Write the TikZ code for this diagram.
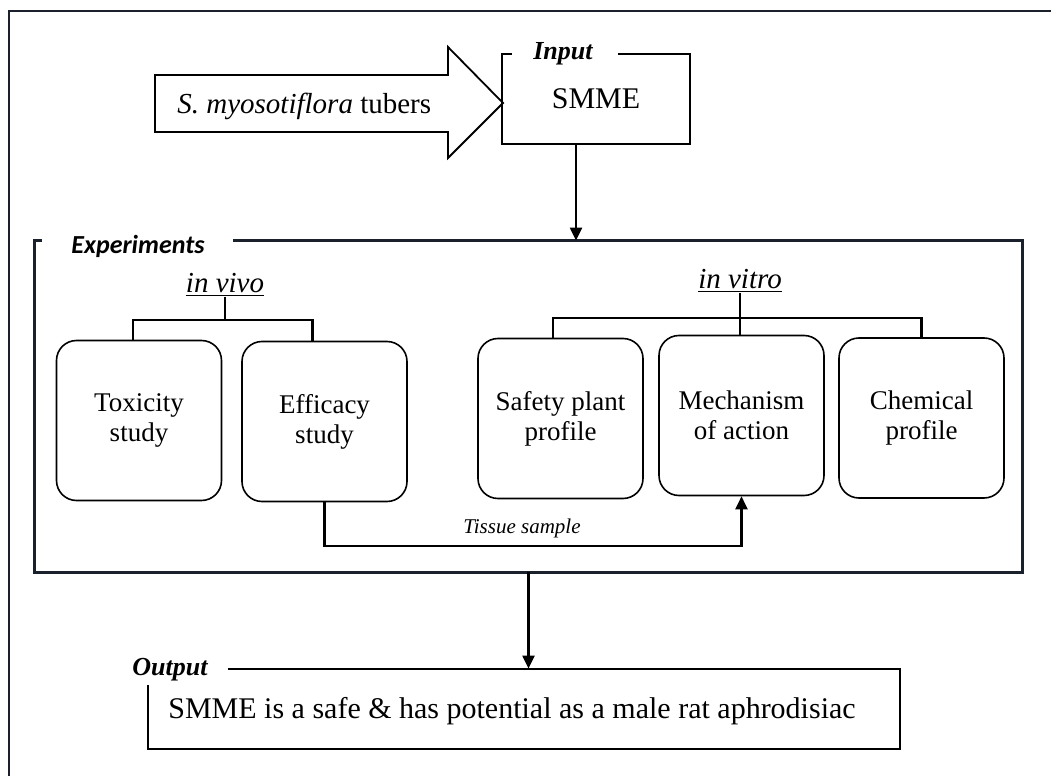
\documentclass[tikz,border=0pt]{standalone}
\usepackage{fontspec}
\setmainfont{Liberation Serif}
\newfontfamily\calibrifont{Carlito}
\usetikzlibrary{arrows.meta,positioning}
\definecolor{Cframe}{HTML}{1A212C}

\begin{document}
\begin{tikzpicture}[x=0.5pt,y=-0.5pt,
		stepbox/.style={draw,line width=0.8pt,rounded corners=10pt,
			minimum width=82.5pt,minimum height=80pt,align=center,
			font=\fontsize{13.5}{15}\selectfont},
		link/.style={line width=1.1pt},
		tip/.style={link,-{Triangle[length=6.5pt,width=6pt]}},
		tag/.style={font=\fontsize{13}{15}\selectfont\bfseries\itshape,inner sep=0pt},
		body/.style={font=\fontsize{14.5}{17}\selectfont,inner sep=0pt}]
	\useasboundingbox (0,0) rectangle (1051,776);
	\draw[Cframe,line width=1pt] (1060,11) -- (9,11) -- (9,790);
	% input
	\draw[line width=0.9pt] (155,75) -- (448,75) -- (448,47) -- (503,103)
		-- (448,158) -- (448,132) -- (155,132) -- cycle;
	\node[body,anchor=base west] (tubers) at (177,113) {\textit{S. myosotiflora} tubers};
	\node[body,font=\fontsize{15}{17}\selectfont,minimum width=94pt,minimum height=44.5pt] (smme) at (596,99) {SMME};
	\draw[line width=1pt] ([xshift=5pt]smme.north west) -- (smme.north west) -- (smme.south west)
		-- (smme.south east) -- (smme.north east) -- ([xshift=-36pt]smme.north east);
	\node[tag,anchor=base] (inlab) at (563,60) {Input};
	\coordinate (smmeout) at ([xshift=-10pt]smme.south);
	% experiments
	\node[minimum width=493.5pt,minimum height=165.5pt,inner sep=0pt] (exper) at (528.5,406.5) {};
	\draw[Cframe,line width=1.5pt] ([xshift=3.5pt]exper.north west) -- (exper.north west)
		-- (exper.south west) -- (exper.south east) -- (exper.north east) -- ([xshift=99pt]exper.north west);
	\node[anchor=base,inner sep=0pt,font=\calibrifont\fontsize{13}{15}\selectfont\bfseries\itshape]
		(explab) at (138,253) {Experiments};
	\draw[tip] (smmeout) -- (smmeout |- exper.north);
	\node[body,anchor=base] (vivo) at (225,292) {\underline{\textit{in vivo}}};
	\node[body,anchor=base] (vitro) at (740,288) {\underline{\textit{in vitro}}};
	\foreach \n/\x/\y/\t in {tox/139/420.5/{Toxicity\\study},eff/324.5/421.5/{Efficacy\\study},
			safe/560.5/418.5/{Safety plant\\profile},mech/741.5/415.5/{Mechanism\\of action},
			chem/921.5/418/{Chemical\\profile}}{
		\node[stepbox] (\n) at (\x,\y) {\t};}
	\draw[link] (vivo.south) -- ++(0,23) coordinate (vivoj);
	\draw[link] ([xshift=-3pt]tox.north) |- (vivoj) -| ([xshift=-6pt]eff.north);
	\draw[link] (vitro.south) -- ++(0,25) coordinate (vitroj);
	\draw[link] ([xshift=-3.75pt]safe.north) |- (vitroj) -| (chem.north);
	\draw[link] (vitroj) -- (vitroj |- mech.north);
	\draw[tip] (eff.south) -- ++(0,44) -| (mech.south);
	\node[anchor=base,inner sep=0pt,font=\fontsize{10.5}{12}\selectfont\itshape] (tissue) at (522,533) {Tissue sample};
	% output
	\node[minimum width=376pt,minimum height=40pt,inner sep=0pt] (result) at (524,709) {};
	\node[body,font=\fontsize{15}{17}\selectfont,anchor=base] (resulttxt) at (512,718)
		{SMME is a safe \& has potential as a male rat aphrodisiac};
	\draw[line width=1pt] ([xshift=40pt]result.north west) -- (result.north east) -- (result.south east)
		-- (result.south west) -- ([yshift=-8pt]result.north west);
	\node[tag,anchor=base] (outlab) at (170,675) {Output};
	\draw[tip] (exper.south) -- (exper.south |- result.north);
\end{tikzpicture}
\end{document}
